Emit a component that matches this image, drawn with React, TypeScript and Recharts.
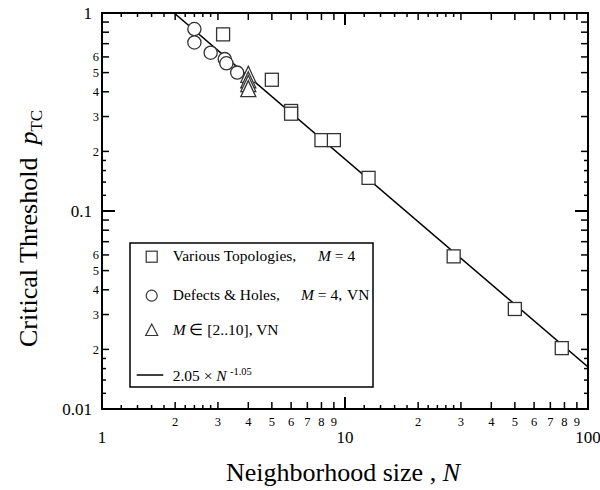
import React from 'react';
import { ComposedChart, Scatter, XAxis, YAxis, ReferenceArea, Legend, Label } from 'recharts';

// ---- data ----
const topologies = [
  { n: 3.15, p: 0.78 },
  { n: 5, p: 0.46 },
  { n: 6, p: 0.32 },
  { n: 6, p: 0.31 },
  { n: 8, p: 0.228 },
  { n: 9, p: 0.228 },
  { n: 12.5, p: 0.147 },
  { n: 28, p: 0.059 },
  { n: 50, p: 0.032 },
  { n: 78, p: 0.0203 },
];
const defects = [
  { n: 2.4, p: 0.83 },
  { n: 2.4, p: 0.71 },
  { n: 2.8, p: 0.63 },
  { n: 3.2, p: 0.585 },
  { n: 3.25, p: 0.557 },
  { n: 3.6, p: 0.5 },
];
const neighborhoods = [
  { n: 4, p: 0.49 },
  { n: 4, p: 0.46 },
  { n: 4, p: 0.44 },
  { n: 4, p: 0.415 },
];
const fitLine = [
  { n: 1.98, p: 1 },
  { n: 100, p: 0.0163 },
];
const xTicks = [1, 1.2, 1.4, 1.6, 1.8, 2, 2.2, 2.4, 2.6, 2.8, 3, 4, 5, 6, 7, 8, 9,
  10, 12, 14, 16, 18, 20, 22, 24, 26, 28, 30, 40, 50, 60, 70, 80, 90, 100];
const yTicks = [0.01, 0.012, 0.014, 0.016, 0.018, 0.02, 0.03, 0.04, 0.05, 0.06, 0.07, 0.08, 0.09,
  0.1, 0.12, 0.14, 0.16, 0.18, 0.2, 0.3, 0.4, 0.5, 0.6, 0.7, 0.8, 0.9, 1];
const xMajorLabels = ['1', '10', '100'];
const yMajorLabels = ['0.01', '0.1', '1'];
const xMinorLabelDigits = [2, 3, 4, 5, 6, 7, 8, 9];
const yMinorLabelDigits = [2, 3, 4, 5, 6];

// ---- layout ----
const W = 600;
const H = 490;
const PLOT_TOP = 13;
const PLOT_RIGHT = 588;
const FONT = '"Liberation Serif", "Times New Roman", serif';
const INK = '#000';
const MARK = '#333';

function tickInfo(v: number) {
  const e = Math.floor(Math.log10(v) + 1e-9);
  const m = Math.round((v / Math.pow(10, e)) * 10) / 10;
  const isMajor = Math.abs(m - 1) < 1e-6;
  const isInt = Math.abs(m - Math.round(m)) < 1e-6;
  return { e, m: Math.round(m), isMajor, isInt };
}

const XTick = (props: any) => {
  const { x, y, payload } = props;
  const v = payload.value;
  const t = tickInfo(v);
  const len = t.isMajor ? 12 : t.isInt ? 7 : 4;
  const sw = t.isMajor ? 2 : 1.5;
  let label: React.ReactNode = null;
  if (t.isMajor) {
    const idx = Math.round(Math.log10(v));
    label = (
      <text x={x} y={y + 34} textAnchor="middle" fontSize={17} fontFamily={FONT} fill={INK}>
        {xMajorLabels[idx]}
      </text>
    );
  } else if (t.isInt && xMinorLabelDigits.includes(t.m)) {
    label = (
      <text x={x} y={y + 17} textAnchor="middle" fontSize={12.5} fontFamily={FONT} fill={INK}>
        {String(t.m)}
      </text>
    );
  }
  return (
    <g>
      <line x1={x} y1={y} x2={x} y2={y - len} stroke={INK} strokeWidth={sw} />
      <line x1={x} y1={PLOT_TOP} x2={x} y2={PLOT_TOP + len} stroke={INK} strokeWidth={sw} />
      {label}
    </g>
  );
};

const YTick = (props: any) => {
  const { x, y, payload } = props;
  const v = payload.value;
  const t = tickInfo(v);
  const len = t.isMajor ? 13 : t.isInt ? 7 : 4;
  const sw = t.isMajor ? 2 : 1.5;
  let label: React.ReactNode = null;
  if (t.isMajor) {
    const idx = Math.round(Math.log10(v)) + 2;
    label = (
      <text x={x - 10} y={y + 6} textAnchor="end" fontSize={17} fontFamily={FONT} fill={INK}>
        {yMajorLabels[idx]}
      </text>
    );
  } else if (t.isInt && yMinorLabelDigits.includes(t.m)) {
    label = (
      <text x={x - 3} y={y + 4.5} textAnchor="end" fontSize={12.5} fontFamily={FONT} fill={INK}>
        {String(t.m)}
      </text>
    );
  }
  return (
    <g>
      <line x1={x} y1={y} x2={x + len} y2={y} stroke={INK} strokeWidth={sw} />
      <line x1={PLOT_RIGHT} y1={y} x2={PLOT_RIGHT - len} y2={y} stroke={INK} strokeWidth={sw} />
      {label}
    </g>
  );
};

const SquareShape = (props: any) => {
  const { cx, cy } = props;
  if (cx == null || cy == null) return null;
  return <rect x={cx - 6.5} y={cy - 6.5} width={13} height={13} fill="#fff" stroke={MARK} strokeWidth={1.3} />;
};
const CircleShape = (props: any) => {
  const { cx, cy } = props;
  if (cx == null || cy == null) return null;
  return <circle cx={cx} cy={cy} r={6.6} fill="#fff" stroke={MARK} strokeWidth={1.3} />;
};
const TriangleShape = (props: any) => {
  const { cx, cy } = props;
  if (cx == null || cy == null) return null;
  return (
    <polygon
      points={`${cx},${cy - 8} ${cx - 7.5},${cy + 8} ${cx + 7.5},${cy + 8}`}
      fill="#fff"
      stroke={MARK}
      strokeWidth={1.3}
    />
  );
};
const NoShape = () => null;

const LegendBox = () => {
  const mx = 22.7;
  const tx = 43.7;
  const fs = 15.5;
  return (
    <svg width={247} height={147} style={{ display: 'block' }}>
      <rect x={1} y={1} width={243} height={144} fill="#fff" stroke={INK} strokeWidth={1.5} />
      <rect x={mx - 5.5} y={14.7 - 5.5} width={11} height={11} fill="#fff" stroke={MARK} strokeWidth={1.2} />
      <text x={tx} y={19} fontSize={fs} fontFamily={FONT} fill={INK}>
        Various Topologies,
        <tspan x={318 - 129} fontStyle="italic">M</tspan>
        <tspan style={{ whiteSpace: 'pre' }}>{' = 4'}</tspan>
      </text>
      <circle cx={mx} cy={53.7} r={5.5} fill="#fff" stroke={MARK} strokeWidth={1.2} />
      <text x={tx} y={58} fontSize={fs} fontFamily={FONT} fill={INK}>
        Defects &amp; Holes,
        <tspan x={301 - 129} fontStyle="italic">M</tspan>
        <tspan style={{ whiteSpace: 'pre' }}>{' = 4,'}</tspan>
        <tspan x={347 - 129}>VN</tspan>
      </text>
      <polygon
        points={`${mx},${88 - 6} ${mx - 6},${88 + 5.5} ${mx + 6},${88 + 5.5}`}
        fill="#fff"
        stroke={MARK}
        strokeWidth={1.2}
      />
      <text x={tx} y={93} fontSize={fs} fontFamily={FONT} fill={INK}>
        <tspan fontStyle="italic">M</tspan>
        <tspan style={{ whiteSpace: 'pre' }}>{' ∈ [2..10], VN'}</tspan>
      </text>
      <line x1={7.7} y1={133} x2={34.3} y2={133} stroke={INK} strokeWidth={1.5} />
      <text x={tx} y={138.7} fontSize={fs} fontFamily={FONT} fill={INK}>
        <tspan style={{ whiteSpace: 'pre' }}>{'2.05 × '}</tspan>
        <tspan fontStyle="italic">N</tspan>
        <tspan x={230 - 129} dy={-6} fontSize={10.5}>-1.05</tspan>
      </text>
    </svg>
  );
};

export default function App() {
  return (
    <div style={{ position: 'absolute', left: 0, top: 0, width: W, height: H, background: '#fff' }}>
      <ComposedChart width={W} height={H} margin={{ top: PLOT_TOP, right: W - PLOT_RIGHT, bottom: 0, left: 0 }}>
        <XAxis
          dataKey="n"
          type="number"
          scale="log"
          domain={[1, 100]}
          allowDataOverflow
          ticks={xTicks}
          interval={0}
          tick={<XTick />}
          tickLine={false}
          tickSize={0}
          tickMargin={0}
          height={81}
          axisLine={{ stroke: INK, strokeWidth: 2 }}
        >
          <Label
            content={() => (
              <text x={343} y={481} textAnchor="middle" fontSize={26} fontFamily={FONT} fill={INK}>
                <tspan style={{ whiteSpace: 'pre' }}>{'Neighborhood size , '}</tspan>
                <tspan fontStyle="italic">N</tspan>
              </text>
            )}
          />
        </XAxis>
        <YAxis
          dataKey="p"
          type="number"
          scale="log"
          domain={[0.01, 1]}
          allowDataOverflow
          ticks={yTicks}
          interval={0}
          tick={<YTick />}
          tickLine={false}
          tickSize={0}
          tickMargin={0}
          width={102}
          axisLine={{ stroke: INK, strokeWidth: 2 }}
        >
          <Label
            content={() => (
              <text
                transform="translate(37,347) rotate(-90)"
                x={0}
                y={0}
                textAnchor="start"
                fontSize={26}
                fontFamily={FONT}
                fill={INK}
              >
                <tspan style={{ whiteSpace: 'pre' }}>{'Critical Threshold  '}</tspan>
                <tspan fontStyle="italic">p</tspan>
                <tspan fontSize={17} dy={5}>TC</tspan>
              </text>
            )}
          />
        </YAxis>
        <ReferenceArea x1={1} x2={100} y1={0.01} y2={1} fill="none" fillOpacity={0} stroke={INK} strokeWidth={2} ifOverflow="visible" />
        <Scatter
          name="fit"
          data={fitLine}
          line={{ stroke: INK, strokeWidth: 1.5 }}
          shape={<NoShape />}
          isAnimationActive={false}
        />
        <Scatter name="Various Topologies" data={topologies} shape={<SquareShape />} isAnimationActive={false} />
        <Scatter name="Defects & Holes" data={defects} shape={<CircleShape />} isAnimationActive={false} />
        <Scatter name="M in [2..10]" data={neighborhoods} shape={<TriangleShape />} isAnimationActive={false} />
        <Legend
          layout="vertical"
          align="center"
          verticalAlign="middle"
          content={() => <LegendBox />}
          wrapperStyle={{ position: 'absolute', left: 129, top: 242, width: 247, height: 147 }}
        />
      </ComposedChart>
    </div>
  );
}
